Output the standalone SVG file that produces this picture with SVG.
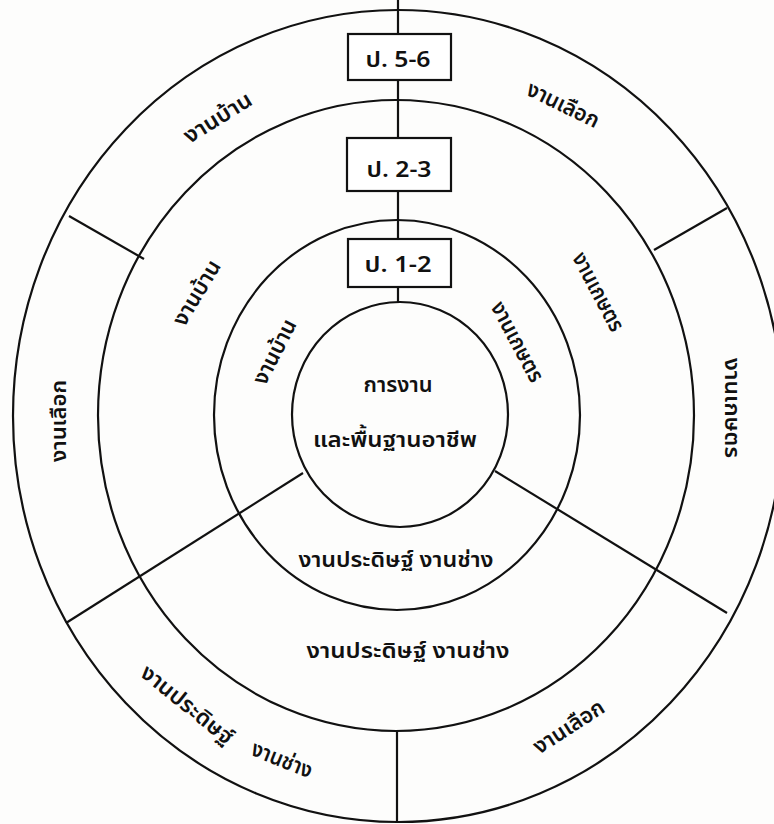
<svg xmlns="http://www.w3.org/2000/svg" width="774" height="824" viewBox="0 0 774 824">
<style>
.ln{fill:none;stroke:#111;stroke-width:2.2}
.box{fill:#fff;stroke:#111;stroke-width:2.2}
.t{font-family:"Noto Sans Thai","Noto Sans","DejaVu Sans",sans-serif;font-size:22px;font-weight:600;fill:#111;text-anchor:middle}
</style>
<rect width="774" height="824" fill="#fdfdfc"/>
<g id="connectors">
<line class="ln" x1="398" y1="0" x2="398" y2="302"/>
<line class="ln" x1="397" y1="731" x2="397" y2="823"/>
<line class="ln" x1="69" y1="216" x2="144" y2="259"/>
<line class="ln" x1="727" y1="208" x2="654" y2="250"/>
<line class="ln" x1="303" y1="473" x2="66" y2="623"/>
<line class="ln" x1="495" y1="471" x2="727" y2="613"/>
</g>
<g id="ring-outer"><ellipse class="ln" cx="398" cy="416" rx="385" ry="406"/></g>
<g id="ring-second"><ellipse class="ln" cx="396" cy="415.5" rx="298" ry="315.5"/></g>
<g id="ring-third"><ellipse class="ln" cx="397" cy="415" rx="183" ry="195"/></g>
<g id="core"><ellipse class="ln" cx="400" cy="414.5" rx="108" ry="112.5"/>
<text class="t" x="398" y="392" textLength="69" lengthAdjust="spacingAndGlyphs">การงาน</text>
<text class="t" x="395" y="447" textLength="164" lengthAdjust="spacingAndGlyphs">และพื้นฐานอาชีพ</text>
</g>
<g id="box-p56"><rect class="box" x="348" y="34" width="103" height="46"/><text class="t" x="398" y="67" textLength="65" lengthAdjust="spacingAndGlyphs">ป. 5-6</text></g>
<g id="box-p23"><rect class="box" x="347" y="138" width="104" height="53"/><text class="t" x="399" y="177" textLength="65" lengthAdjust="spacingAndGlyphs">ป. 2-3</text></g>
<g id="box-p12"><rect class="box" x="348" y="239" width="103" height="48"/><text class="t" x="398" y="272" textLength="67" lengthAdjust="spacingAndGlyphs">ป. 1-2</text></g>
<g id="labels-outer">
<text class="t" transform="translate(218,118) rotate(-32)" x="0" y="7" textLength="76" lengthAdjust="spacingAndGlyphs">งานบ้าน</text>
<text class="t" transform="translate(563,105) rotate(26)" x="0" y="7" textLength="78" lengthAdjust="spacingAndGlyphs">งานเลือก</text>
<text class="t" transform="translate(59,421) rotate(-90)" x="0" y="7" textLength="82" lengthAdjust="spacingAndGlyphs">งานเลือก</text>
<text class="t" transform="translate(732,408) rotate(90)" x="0" y="7" textLength="100" lengthAdjust="spacingAndGlyphs">งานเกษตร</text>
<text class="t" transform="translate(187,705) rotate(39)" x="0" y="7" textLength="112" lengthAdjust="spacingAndGlyphs">งานประดิษฐ์</text>
<text class="t" transform="translate(282,760) rotate(22)" x="0" y="7" textLength="64" lengthAdjust="spacingAndGlyphs">งานช่าง</text>
<text class="t" transform="translate(569,727) rotate(-33)" x="0" y="7" textLength="80" lengthAdjust="spacingAndGlyphs">งานเลือก</text>
</g>
<g id="labels-second">
<text class="t" transform="translate(197,293) rotate(-59)" x="0" y="7" textLength="72" lengthAdjust="spacingAndGlyphs">งานบ้าน</text>
<text class="t" transform="translate(598,292) rotate(62)" x="0" y="7" textLength="86" lengthAdjust="spacingAndGlyphs">งานเกษตร</text>
<text class="t" x="408" y="658" textLength="203" lengthAdjust="spacingAndGlyphs">งานประดิษฐ์  งานช่าง</text>
</g>
<g id="labels-third">
<text class="t" transform="translate(275,352) rotate(-63)" x="0" y="7" textLength="70" lengthAdjust="spacingAndGlyphs">งานบ้าน</text>
<text class="t" transform="translate(517,342) rotate(62)" x="0" y="7" textLength="88" lengthAdjust="spacingAndGlyphs">งานเกษตร</text>
<text class="t" x="396" y="567" textLength="195" lengthAdjust="spacingAndGlyphs">งานประดิษฐ์ งานช่าง</text>
</g>
</svg>
